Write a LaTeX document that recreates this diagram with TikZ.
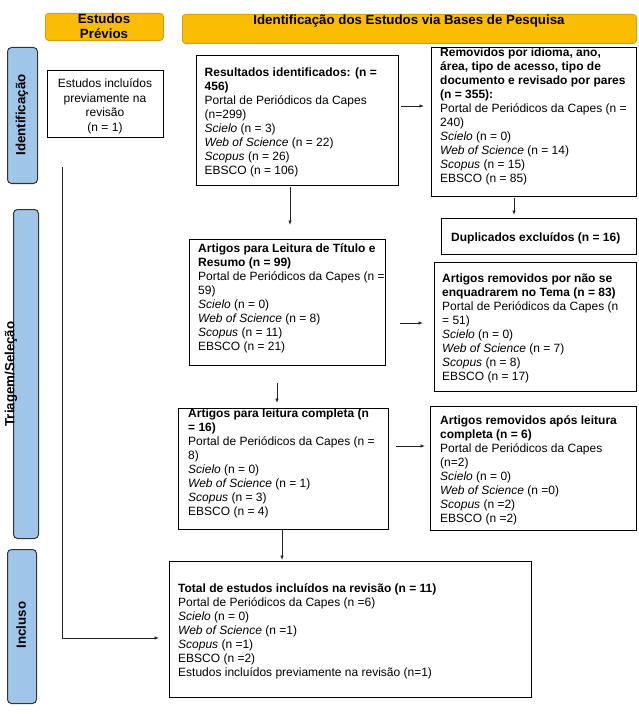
\documentclass[tikz,border=0pt]{standalone}
\usepackage{fontspec}
\setmainfont{Liberation Sans}
\usetikzlibrary{arrows.meta}
\definecolor{hdrfill}{HTML}{FBBC04}
\definecolor{hdrborder}{HTML}{D9A000}
\definecolor{sidefill}{HTML}{9FC5E8}
\definecolor{sideborder}{HTML}{333333}
\definecolor{arrowc}{HTML}{222222}
\begin{document}
\begin{tikzpicture}[x=1pt,y=-1pt,
  box/.style={draw=black, line width=1.1pt, anchor=north west, inner sep=0pt, fill=white},
  txt/.style={anchor=north west, inner sep=0pt, align=left, font=\fontsize{12}{14}\selectfont},
  ctxt/.style={anchor=north, inner sep=0pt, align=center, font=\fontsize{12}{14.5}\selectfont},
  hdr/.style={draw=hdrborder, fill=hdrfill, rounded corners=3pt, line width=0.8pt, anchor=north west, inner sep=0pt},
  side/.style={draw=sideborder, fill=sidefill, rounded corners=4pt, line width=1pt, anchor=north west, inner sep=0pt},
  lbl/.style={font=\fontsize{13.3}{15.3}\selectfont\bfseries, inner sep=0pt},
  arr/.style={-{Latex[length=4.5pt,width=3.5pt]}, line width=0.8pt, draw=arrowc},
]
\useasboundingbox (0,0) rectangle (638,714);

% headers
\node[hdr, minimum width=118pt, minimum height=27pt] (hprev) at (45,13) {};
\node[lbl, anchor=north, align=center] (hprev-t) at (104,12.1) {\strut Estudos\\Prévios};
\node[hdr, minimum width=454pt, minimum height=29pt] (hid) at (182,14) {};
\node[lbl, anchor=base] (hid-t) at (409,24.8) {Identificação dos Estudos via Bases de Pesquisa};

% side labels
\node[side, minimum width=30pt, minimum height=136pt] (sid) at (7,47) {};
\node[lbl, rotate=90] (sid-t) at (22,115) {Identificação};
\node[side, minimum width=25pt, minimum height=329pt] (stri) at (13,209) {};
\node[lbl, rotate=90] (stri-t) at (11,374) {Triagem/Seleção};
\node[side, minimum width=29pt, minimum height=154pt] (sinc) at (7,549) {};
\node[lbl, rotate=90] (sinc-t) at (21,625) {Incluso};

% boxes
\node[box, minimum width=116pt, minimum height=67pt] (inc) at (47,70) {};
\node[ctxt] (inc-t) at (105,77.5) {\strut Estudos incluídos\\previamente na\\revisão\\(n = 1)};

\node[box, minimum width=202pt, minimum height=130pt] (res) at (196,55) {};
\node[txt] (res-t) at (204.5,66.5) {\strut\textbf{Resultados identificados: (n =}\\\textbf{456)}\\Portal de Periódicos da Capes\\(n=299)\\\textit{Scielo} (n = 3)\\\textit{Web of Science} (n = 22)\\\textit{Scopus} (n = 26)\\EBSCO (n = 106)};

\node[box, minimum width=205pt, minimum height=149pt] (rem) at (431,47) {};
\node[txt] (rem-t) at (440,46.5) {\strut\textbf{Removidos por idioma, ano,}\\\textbf{área, tipo de acesso, tipo de}\\\textbf{documento e revisado por pares}\\\textbf{(n = 355):}\\Portal de Periódicos da Capes (n =\\240)\\\textit{Scielo} (n = 0)\\\textit{Web of Science} (n = 14)\\\textit{Scopus} (n = 15)\\EBSCO (n = 85)};

\node[box, minimum width=195pt, minimum height=36pt] (dup) at (441,218) {};
\node[txt] (dup-t) at (451,231.5) {\strut\textbf{Duplicados excluídos (n = 16)}};

\node[box, minimum width=196pt, minimum height=126pt] (tit) at (189,239) {};
\node[txt] (tit-t) at (198,242.5) {\strut\textbf{Artigos para Leitura de Título e}\\\textbf{Resumo (n = 99)}\\Portal de Periódicos da Capes (n =\\59)\\\textit{Scielo} (n = 0)\\\textit{Web of Science} (n = 8)\\\textit{Scopus} (n = 11)\\EBSCO (n = 21)};

\node[box, minimum width=202pt, minimum height=129pt] (nt) at (434,262) {};
\node[txt] (nt-t) at (442,272.5) {\strut\textbf{Artigos removidos por não se}\\\textbf{enquadrarem no Tema (n = 83)}\\Portal de Periódicos da Capes (n\\= 51)\\\textit{Scielo} (n = 0)\\\textit{Web of Science} (n = 7)\\\textit{Scopus} (n = 8)\\EBSCO (n = 17)};

\node[box, minimum width=210pt, minimum height=121pt] (com) at (178,408) {};
\node[txt] (com-t) at (188,407.5) {\strut\textbf{Artigos para leitura completa (n}\\\textbf{= 16)}\\Portal de Periódicos da Capes (n =\\8)\\\textit{Scielo} (n = 0)\\\textit{Web of Science} (n = 1)\\\textit{Scopus} (n = 3)\\EBSCO (n = 4)};

\node[box, minimum width=206pt, minimum height=124pt] (apo) at (430,406) {};
\node[txt] (apo-t) at (440,414.5) {\strut\textbf{Artigos removidos após leitura}\\\textbf{completa (n = 6)}\\Portal de Periódicos da Capes\\(n=2)\\\textit{Scielo} (n = 0)\\\textit{Web of Science} (n =0)\\\textit{Scopus} (n =2)\\EBSCO (n =2)};

\node[box, minimum width=362pt, minimum height=136pt] (tot) at (169,561) {};
\node[txt] (tot-t) at (178,582.5) {\strut\textbf{Total de estudos incluídos na revisão (n = 11)}\\Portal de Periódicos da Capes (n =6)\\\textit{Scielo} (n = 0)\\\textit{Web of Science} (n =1)\\\textit{Scopus} (n =1)\\EBSCO (n =2)\\Estudos incluídos previamente na revisão (n=1)};

% connectors
\draw[arr, shorten <=2pt, shorten >=7pt] (res.east |- 0,106) -- (rem.west |- 0,106);
\draw[arr, shorten <=1pt, shorten >=14pt] (res.south -| 290,0) -- (tit.north -| 290,0);
\draw[arr, shorten <=1pt, shorten >=3pt] (rem.south -| 514,0) -- (dup.north -| 514,0);
\draw[arr, shorten <=14pt, shorten >=11pt] (tit.east |- 0,323) -- (nt.west |- 0,323);
\draw[arr, shorten <=17pt, shorten >=5pt] (tit.south -| 277,0) -- (com.north -| 277,0);
\draw[arr, shorten <=7pt, shorten >=5pt] (com.east |- 0,446) -- (apo.west |- 0,446);
\draw[arr, shorten >=1pt] (com.south -| 282,0) -- (tot.north -| 282,0);
\draw[arr, shorten >=10pt] (inc.south -| 62,0) ++(0,29) |- (tot.west |- 0,638);
\end{tikzpicture}
\end{document}
